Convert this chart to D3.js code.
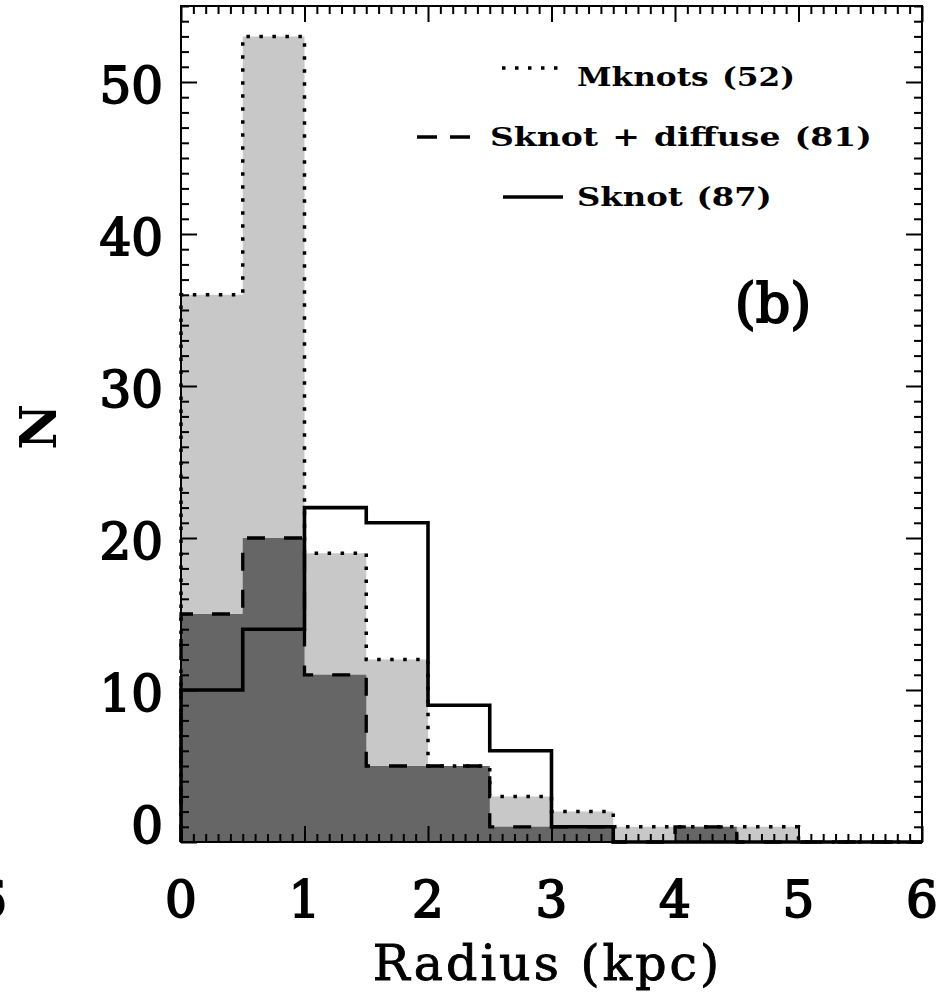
<!DOCTYPE html>
<html><head><meta charset="utf-8">
<script src="https://cdn.jsdelivr.net/npm/d3@7"></script>
<style>body{margin:0;background:#fff} svg{display:block}</style>
</head><body>
<svg id="c" width="948" height="993"></svg>
<script>
// ---- data ----
const binEdges = [0,0.5,1,1.5,2,2.5,3,3.5,4,4.5,5,5.5,6];
const mknots       = [36,53,19,12,5,3,2,1,1,1,0,0];
const sknotDiffuse = [15,20,11,5,5,1,1,0,1,0,0,0];
const sknot        = [10,14,22,21,9,6,1,0,0,0,0,0];
const xTicks = [0,1,2,3,4,5,6];
const yTicks = [0,10,20,30,40,50];
const legendLabels = ["Mknots (52)", "Sknot + diffuse (81)", "Sknot (87)"];
const panelLabel = "(b)";
const xTitle = "Radius (kpc)";
const yTitle = "N";

// ---- layout ----
const svg = d3.select("#c");
const x = d3.scaleLinear().domain([0,6]).range([181,922]);
const y = d3.scaleLinear().domain([0,55]).range([842,6]);
const serif = "'DejaVu Serif', serif";

function steps(vals){
  const pts = [{x: binEdges[0], y: 0}];
  vals.forEach((v,i)=>pts.push({x: binEdges[i], y: v}));
  pts.push({x: binEdges[binEdges.length-1], y: 0});
  return pts;
}
const area = d3.area().x(d=>x(d.x)).y0(y(0)).y1(d=>y(d.y)).curve(d3.curveStepAfter);
const line = d3.line().x(d=>x(d.x)).y(d=>y(d.y)).curve(d3.curveStepAfter);

// fills
svg.append("path").attr("d", area(steps(mknots))).attr("fill","#c8c8c8");
svg.append("path").attr("d", area(steps(sknotDiffuse))).attr("fill","#666666");
// outlines
svg.append("path").attr("d", line(steps(mknots))).attr("fill","none")
  .attr("stroke","#000").attr("stroke-width",3.5).attr("stroke-dasharray","3.5,9.5");
svg.append("path").attr("d", line(steps(sknotDiffuse))).attr("fill","none")
  .attr("stroke","#000").attr("stroke-width",3.3).attr("stroke-dasharray","18,19");
svg.append("path").attr("d", line(steps(sknot))).attr("fill","none")
  .attr("stroke","#000").attr("stroke-width",3.6);

// axes (ticks inward, all four sides)
const minorX = d3.range(0,61).map(i=>i/10).filter(v=>Math.abs(v-Math.round(v))>1e-6);
const minorY = d3.range(0,56).filter(v=>v%10!==0);
function addAxis(axisGen, transform){
  const g = svg.append("g").attr("transform", transform).call(axisGen);
  g.select(".domain").remove();
  g.selectAll(".tick line").attr("stroke","#000").attr("stroke-width",2);
  g.selectAll(".tick text").remove();
}
addAxis(d3.axisBottom(x).tickValues(xTicks).tickSize(-16), `translate(0,${y(0)})`);
addAxis(d3.axisBottom(x).tickValues(minorX).tickSize(-8), `translate(0,${y(0)})`);
addAxis(d3.axisTop(x).tickValues(xTicks).tickSize(-16), `translate(0,${y(55)})`);
addAxis(d3.axisTop(x).tickValues(minorX).tickSize(-8), `translate(0,${y(55)})`);
addAxis(d3.axisLeft(y).tickValues(yTicks).tickSize(-16), `translate(${x(0)},0)`);
addAxis(d3.axisLeft(y).tickValues(minorY).tickSize(-8), `translate(${x(0)},0)`);
addAxis(d3.axisRight(y).tickValues(yTicks).tickSize(-16), `translate(${x(6)},0)`);
addAxis(d3.axisRight(y).tickValues(minorY).tickSize(-8), `translate(${x(6)},0)`);
svg.append("rect").attr("x",x(0)).attr("y",y(55)).attr("width",x(6)-x(0)).attr("height",y(0)-y(55))
  .attr("fill","none").attr("stroke","#000").attr("stroke-width",2);

// tick labels
const tickStyle = s => s.attr("font-family",serif).attr("font-size",50).attr("fill","#000")
  .attr("stroke","#000").attr("stroke-width",1.8);
svg.selectAll(".xl").data(xTicks).enter().append("text")
  .attr("x",d=>x(d)).attr("y",917).attr("text-anchor","middle").text(d=>d).call(tickStyle);
svg.append("text").attr("x",-9).attr("y",917).attr("text-anchor","middle").text("6").call(tickStyle);
svg.selectAll(".yl").data(yTicks).enter().append("text")
  .attr("x",163).attr("y",d=> d===0 ? y(d)+1 : y(d)+21).attr("text-anchor","end").text(d=>d).call(tickStyle);

// axis titles
svg.append("text").attr("x",(x(0)+x(6))/2 - 4).attr("y",980).attr("text-anchor","middle")
  .attr("font-family",serif).attr("font-size",49).attr("letter-spacing",3)
  .attr("stroke","#000").attr("stroke-width",0.9).text(xTitle);
svg.append("text").attr("transform","translate(56,427) rotate(-90)").attr("text-anchor","middle")
  .attr("font-family",serif).attr("font-size",50).attr("font-weight","bold").text(yTitle);

// panel label
svg.append("text").attr("x",773).attr("y",322).attr("text-anchor","middle")
  .attr("font-family",serif).attr("font-size",54).attr("stroke","#000").attr("stroke-width",2).text(panelLabel);

// legend
const legRows = [
  {label: legendLabels[0], tx: 577, ty: 86,  len: 218, x1: 502, x2: 559, ly: 68,  dash: "3.5,9.5", w: 3.5},
  {label: legendLabels[1], tx: 490, ty: 146, len: 382, x1: 417, x2: 470, ly: 137, dash: "20,13", w: 3.5},
  {label: legendLabels[2], tx: 577, ty: 206, len: 195, x1: 503, x2: 563, ly: 197, dash: null, w: 3.5}
];
legRows.forEach(r=>{
  const l = svg.append("line").attr("x1",r.x1).attr("x2",r.x2).attr("y1",r.ly).attr("y2",r.ly)
    .attr("stroke","#000").attr("stroke-width",r.w);
  if (r.dash) l.attr("stroke-dasharray", r.dash);
  const t = svg.append("text").attr("x",0).attr("y",0).attr("font-family",serif).attr("font-size",26)
    .attr("font-weight","bold").attr("word-spacing",2).text(r.label);
  const natural = t.node().getComputedTextLength();
  t.attr("transform",`translate(${r.tx},${r.ty}) scale(${r.len/natural},1)`);
});
</script>
</body></html>
